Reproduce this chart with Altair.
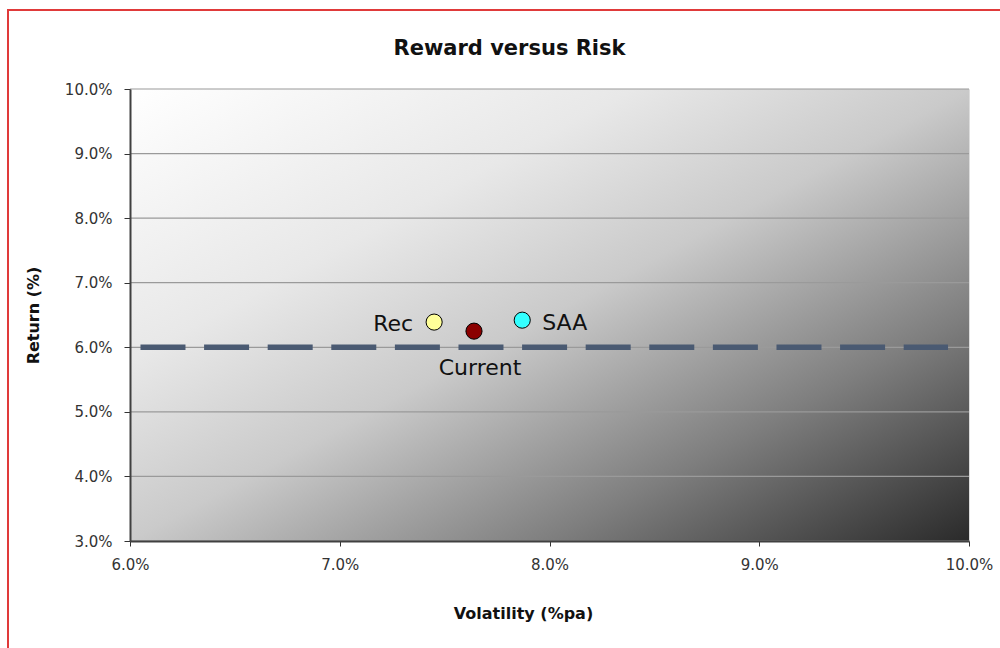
import altair as alt
import pandas as pd

# Portfolios: volatility (% pa) and expected return (%)
portfolios = ["Rec", "Current", "SAA"]
volatility = [7.45, 7.64, 7.87]
returns = [6.39, 6.25, 6.42]
point_colors = ["#ffff99", "#8b0000", "#33ffff"]

# Target return line
target_vol = [6.05, 9.9]
target_ret = [6.0, 6.0]

# Axis ticks
x_ticks = [6, 7, 8, 9, 10]
y_ticks = [3, 4, 5, 6, 7, 8, 9, 10]

W, H = 839, 452
FONT = "DejaVu Sans"

pts = pd.DataFrame({"name": portfolios, "vol": volatility, "ret": returns})
target = pd.DataFrame({"vol": target_vol, "ret": target_ret})
grid = pd.DataFrame({"ret": y_ticks})
frame = pd.DataFrame({"k": [0]})

x_scale = alt.Scale(domain=[6, 10], nice=False, zero=False)
y_scale = alt.Scale(domain=[3, 10], nice=False, zero=False)

x_axis = alt.Axis(
    values=x_ticks, grid=False, labelExpr="format(datum.value, '.1f') + '%'",
    title="Volatility (%pa)", titleFontSize=16, titleFontWeight="bold",
    titleColor="#111111", titleX=393, titleY=72, titleBaseline="middle",
    labelFontSize=15, labelColor="#333333", labelPadding=11, labelFont=FONT,
    titleFont=FONT, tickSize=5, tickColor="#333333", domainColor="#404040",
    domainWidth=2, labelFlush=False, zindex=1,
)
y_axis = alt.Axis(
    values=y_ticks, grid=False,
    labelExpr="format(datum.value, '.1f') + '%'",
    title="Return (%)", titleFontSize=16, titleFontWeight="bold",
    titleColor="#111111", titleX=-97, titleBaseline="middle", titleFont=FONT,
    labelFontSize=15, labelColor="#333333", labelPadding=12, labelFont=FONT,
    tickSize=6, tickColor="#333333", domainColor="#404040", domainWidth=2,
    labelFlush=False, zindex=1,
)

bg = alt.Gradient(
    gradient="linear", x1=0, y1=0, x2=1, y2=1,
    stops=[
        alt.GradientStop(offset=0, color="#ffffff"),
        alt.GradientStop(offset=0.3, color="#e8e8e8"),
        alt.GradientStop(offset=0.5, color="#cacaca"),
        alt.GradientStop(offset=0.75, color="#7e7e7e"),
        alt.GradientStop(offset=1, color="#2a2a2a"),
    ],
)

# Shaded plot background
backdrop = alt.Chart(frame).mark_rect(fill=bg, strokeWidth=0).encode(
    x=alt.value(0), x2=alt.value(W), y=alt.value(0), y2=alt.value(H)
)

# Horizontal gridlines at each y tick
gridlines = alt.Chart(grid).mark_rule(color="#9a9a9a", strokeWidth=1.2).encode(
    y=alt.Y("ret:Q", scale=y_scale, axis=y_axis),
)

# Outer red frame around the whole figure
border = alt.Chart(frame).mark_rect(
    fill="transparent", stroke="#e03a3a", strokeWidth=2
).encode(
    x=alt.value(-122), y=alt.value(-79), x2=alt.value(890), y2=alt.value(580)
)

line = alt.Chart(target).mark_line(
    color="#4a5a72", strokeWidth=5.5, strokeDash=[45, 18.6], strokeCap="butt"
).encode(
    x=alt.X("vol:Q", scale=x_scale, axis=x_axis),
    y=alt.Y("ret:Q", scale=y_scale, axis=y_axis),
)

points = alt.Chart(pts).mark_circle(
    size=260, opacity=1, stroke="#000000", strokeWidth=1
).encode(
    x=alt.X("vol:Q", scale=x_scale),
    y=alt.Y("ret:Q", scale=y_scale),
    color=alt.Color("name:N", scale=alt.Scale(domain=portfolios, range=point_colors), legend=None),
)

label_style = dict(font=FONT, fontSize=22, color="#111111", baseline="middle")

lbl_rec = alt.Chart(pts).transform_filter(alt.datum.name == "Rec").mark_text(
    align="right", dx=-21, dy=2, **label_style
).encode(x="vol:Q", y="ret:Q", text="name:N")

lbl_saa = alt.Chart(pts).transform_filter(alt.datum.name == "SAA").mark_text(
    align="left", dx=20, dy=3, **label_style
).encode(x="vol:Q", y="ret:Q", text="name:N")

lbl_cur = alt.Chart(pts).transform_filter(alt.datum.name == "Current").mark_text(
    align="center", dx=6, dy=37, **label_style
).encode(x="vol:Q", y="ret:Q", text="name:N")

chart = alt.layer(
    backdrop, gridlines, line, points, lbl_rec, lbl_saa, lbl_cur, border
).properties(
    width=W, height=H,
    title=alt.TitleParams(
        "Reward versus Risk", font=FONT, fontSize=21, fontWeight="bold",
        color="#111111", anchor="middle", dx=-40, offset=-50,
    ),
    autosize=alt.AutoSizeParams(type="none"),
    padding={"left": 130, "top": 89, "right": 31, "bottom": 107},
).configure_view(
    stroke="transparent"
).configure(background="#ffffff")

chart.save("out.html", embed_options={"renderer": "svg", "actions": False})
